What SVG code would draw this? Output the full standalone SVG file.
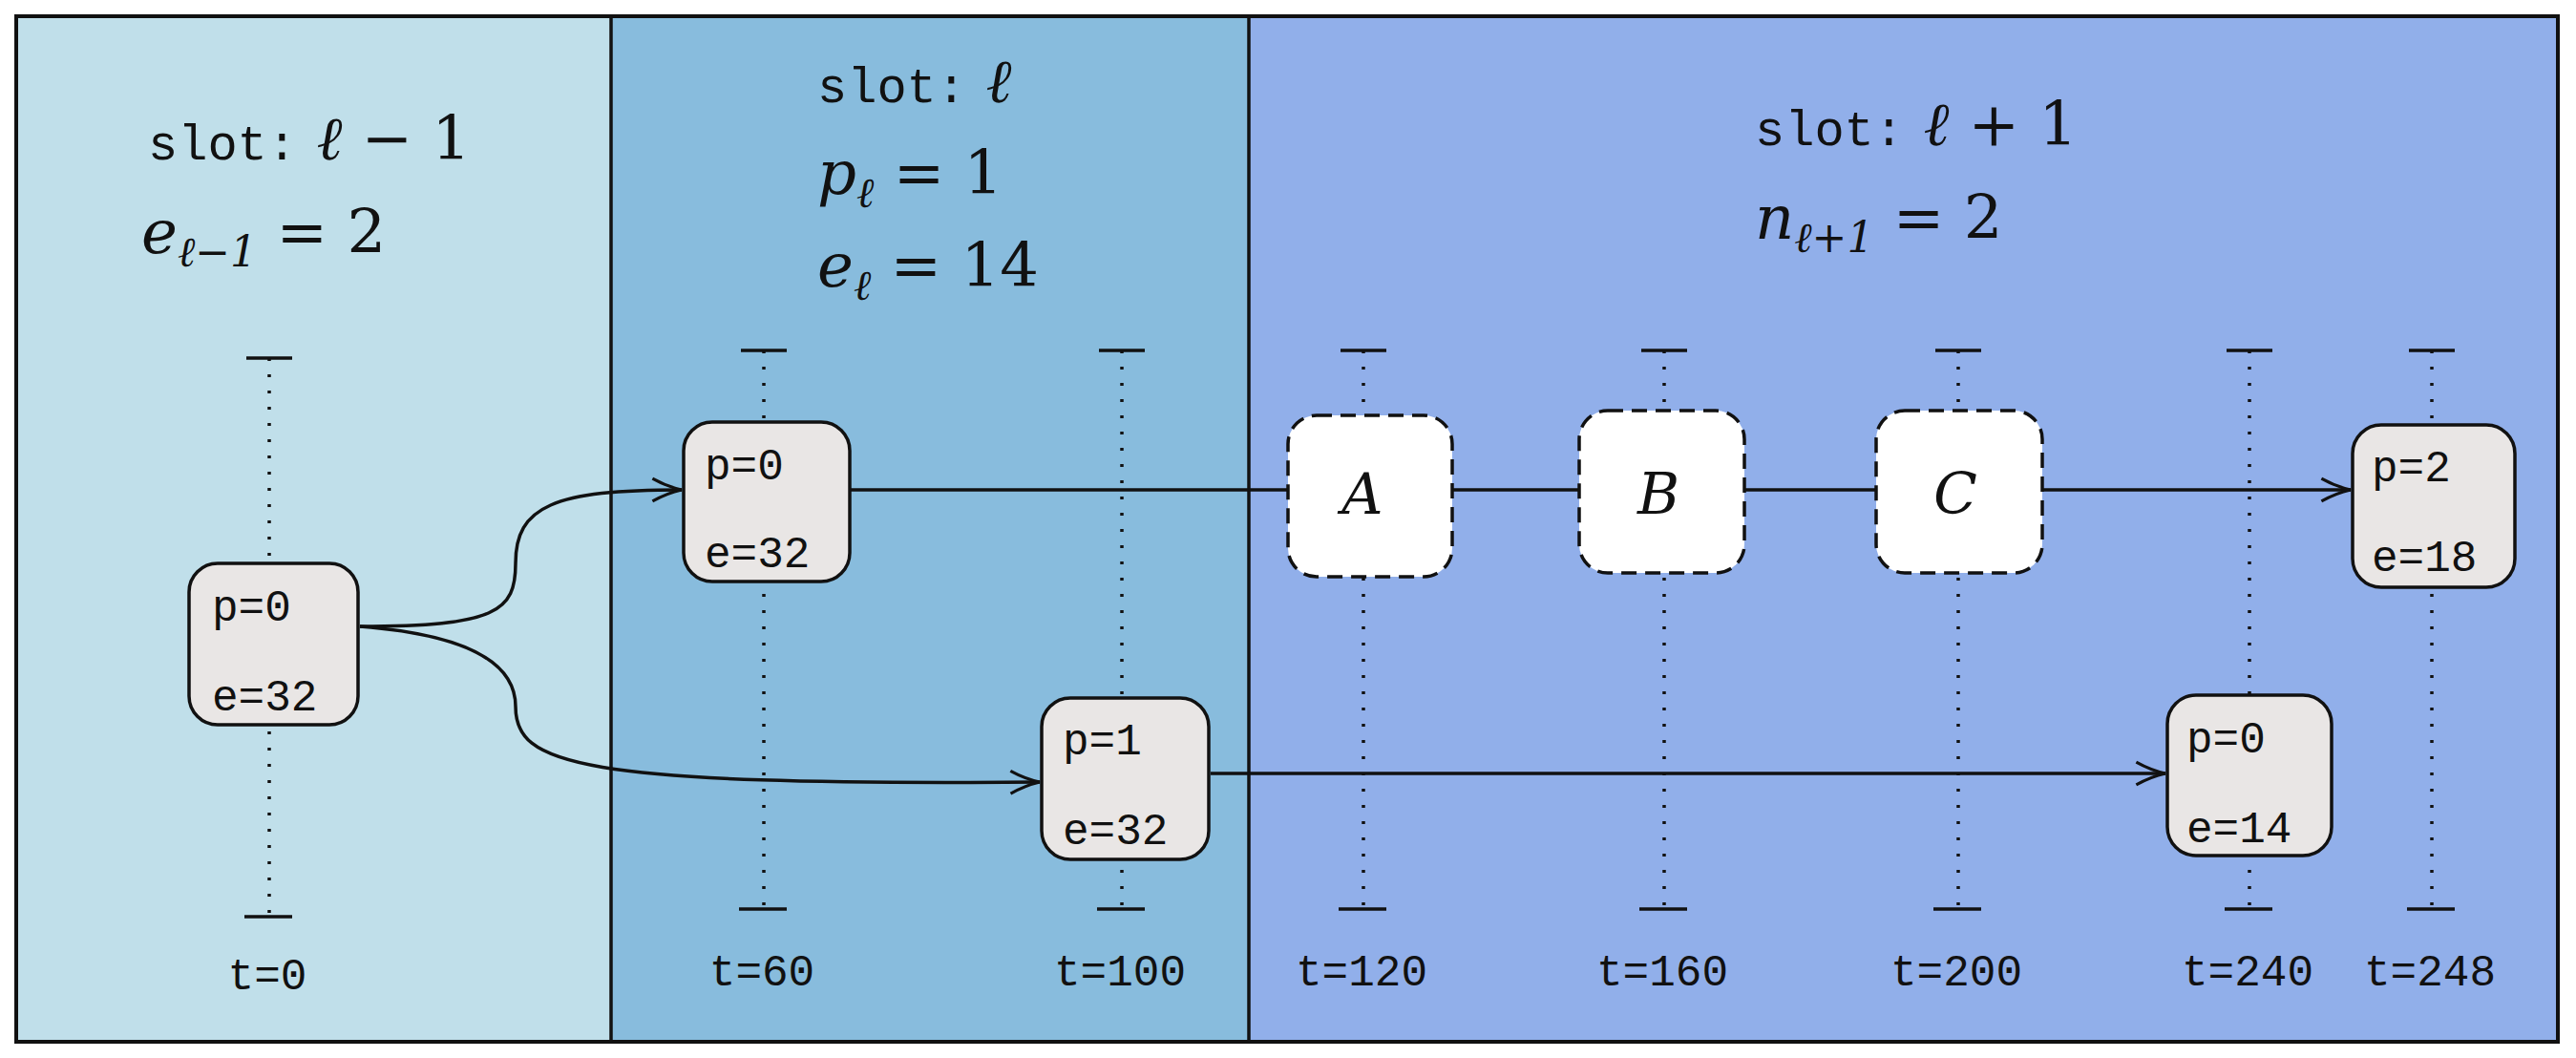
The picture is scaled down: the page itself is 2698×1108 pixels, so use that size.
<svg xmlns="http://www.w3.org/2000/svg" width="2698" height="1108" viewBox="0 0 2698 1108">
<style>
.tick{stroke:#111;stroke-width:3.5}
.dot{stroke:#111;stroke-width:3.5;stroke-dasharray:3 14}
.node{fill:#e9e6e5;stroke:#111;stroke-width:3.5}
.ghost{fill:#fff;stroke:#111;stroke-width:3.5;stroke-dasharray:16 9}
.mono{font-family:"Liberation Mono","DejaVu Sans Mono",monospace;font-size:46px;fill:#111}
.math{font-family:"DejaVu Serif","Liberation Serif",serif;font-style:italic;font-size:64px;fill:#111}
.up{font-style:normal}
.sub{font-size:44px}
.conn{fill:none;stroke:#111;stroke-width:3.5}
.slot{font-family:"Liberation Mono","DejaVu Sans Mono",monospace;font-size:52px;font-style:normal}
</style>
<defs>
<marker id="arr" viewBox="0 0 20 20" refX="19" refY="10" markerWidth="34" markerHeight="34" markerUnits="userSpaceOnUse" orient="auto">
<path d="M1,3 Q10,8 19,10 Q10,12 1,17" fill="none" stroke="#111" stroke-width="1.8"/>
</marker>
</defs>
<g id="background">
<rect x="17" y="17" width="623" height="1074" fill="#c0dfea"/>
<rect x="640" y="17" width="668" height="1074" fill="#88bcdd"/>
<rect x="1308" y="17" width="1371" height="1074" fill="#91afea"/>
<rect x="17" y="17" width="2662" height="1074" fill="none" stroke="#111" stroke-width="4"/>
<line x1="640" y1="17" x2="640" y2="1091" stroke="#111" stroke-width="3.5"/>
<line x1="1308" y1="17" x2="1308" y2="1091" stroke="#111" stroke-width="3.5"/>
</g>
<g id="titles">
<text x="155" y="167" class="math"><tspan class="slot">slot:</tspan> ℓ<tspan class="up"> − 1</tspan></text>
<text x="148" y="265" class="math">e<tspan class="sub" dy="14">ℓ−1</tspan><tspan class="up" dy="-14"> = 2</tspan></text>
<text x="856" y="107" class="math"><tspan class="slot">slot:</tspan> ℓ</text>
<text x="856" y="203" class="math">p<tspan class="sub" dy="14">ℓ</tspan><tspan class="up" dy="-14"> = 1</tspan></text>
<text x="856" y="300" class="math">e<tspan class="sub" dy="14">ℓ</tspan><tspan class="up" dy="-14"> = 14</tspan></text>
<text x="1838" y="152" class="math"><tspan class="slot">slot:</tspan> ℓ<tspan class="up"> + 1</tspan></text>
<text x="1838" y="250" class="math">n<tspan class="sub" dy="14">ℓ+1</tspan><tspan class="up" dy="-14"> = 2</tspan></text>
</g>
<g id="timelines">
<line class="dot" x1="282" y1="375" x2="282" y2="960"/><line class="tick" x1="258" y1="375" x2="306" y2="375"/><line class="tick" x1="256" y1="960" x2="306" y2="960"/>
<line class="dot" x1="800" y1="367" x2="800" y2="952"/><line class="tick" x1="776" y1="367" x2="824" y2="367"/><line class="tick" x1="774" y1="952" x2="824" y2="952"/>
<line class="dot" x1="1175" y1="367" x2="1175" y2="952"/><line class="tick" x1="1151" y1="367" x2="1199" y2="367"/><line class="tick" x1="1149" y1="952" x2="1199" y2="952"/>
<line class="dot" x1="1428" y1="367" x2="1428" y2="952"/><line class="tick" x1="1404" y1="367" x2="1452" y2="367"/><line class="tick" x1="1402" y1="952" x2="1452" y2="952"/>
<line class="dot" x1="1743" y1="367" x2="1743" y2="952"/><line class="tick" x1="1719" y1="367" x2="1767" y2="367"/><line class="tick" x1="1717" y1="952" x2="1767" y2="952"/>
<line class="dot" x1="2051" y1="367" x2="2051" y2="952"/><line class="tick" x1="2027" y1="367" x2="2075" y2="367"/><line class="tick" x1="2025" y1="952" x2="2075" y2="952"/>
<line class="dot" x1="2356" y1="367" x2="2356" y2="952"/><line class="tick" x1="2332" y1="367" x2="2380" y2="367"/><line class="tick" x1="2330" y1="952" x2="2380" y2="952"/>
<line class="dot" x1="2547" y1="367" x2="2547" y2="952"/><line class="tick" x1="2523" y1="367" x2="2571" y2="367"/><line class="tick" x1="2521" y1="952" x2="2571" y2="952"/>
<g class="mono" text-anchor="middle">
<text x="280" y="1036">t=0</text><text x="798" y="1032">t=60</text><text x="1173" y="1032">t=100</text>
<text x="1426" y="1032">t=120</text><text x="1741" y="1032">t=160</text><text x="2049" y="1032">t=200</text>
<text x="2354" y="1032">t=240</text><text x="2545" y="1032">t=248</text>
</g>
</g>
<g id="connectors">
<path class="conn" d="M377,656 C520,656 540,640 540,590 C540,530 580,513 714,513" marker-end="url(#arr)"/>
<path class="conn" d="M377,656 C480,664 540,690 540,740 C540,800 600,823 1089,819" marker-end="url(#arr)"/>
<line class="conn" x1="890" y1="513" x2="2462" y2="513" marker-end="url(#arr)"/>
<line class="conn" x1="1268" y1="810" x2="2268" y2="810" marker-end="url(#arr)"/>
</g>
<g id="n0"><rect class="node" x="198" y="590" width="177" height="169" rx="30"/><text class="mono" x="222" y="650">p=0</text><text class="mono" x="222" y="744">e=32</text></g>
<g id="n1"><rect class="node" x="716" y="442" width="174" height="167" rx="30"/><text class="mono" x="738" y="502">p=0</text><text class="mono" x="738" y="594">e=32</text></g>
<g id="n2"><rect class="node" x="1091" y="731" width="175" height="169" rx="30"/><text class="mono" x="1113" y="790">p=1</text><text class="mono" x="1113" y="884">e=32</text></g>
<g id="nA"><rect class="ghost" x="1349" y="435" width="172" height="169" rx="30"/><text class="math" x="1427" y="538" text-anchor="middle" style="font-size:60px">A</text></g>
<g id="nB"><rect class="ghost" x="1654" y="430" width="173" height="170" rx="30"/><text class="math" x="1737" y="538" text-anchor="middle" style="font-size:60px">B</text></g>
<g id="nC"><rect class="ghost" x="1965" y="430" width="174" height="170" rx="30"/><text class="math" x="2048" y="538" text-anchor="middle" style="font-size:60px">C</text></g>
<g id="n3"><rect class="node" x="2464" y="445" width="170" height="170" rx="30"/><text class="mono" x="2484" y="504">p=2</text><text class="mono" x="2484" y="598">e=18</text></g>
<g id="n4"><rect class="node" x="2270" y="728" width="172" height="168" rx="30"/><text class="mono" x="2290" y="788">p=0</text><text class="mono" x="2290" y="882">e=14</text></g>
</svg>
